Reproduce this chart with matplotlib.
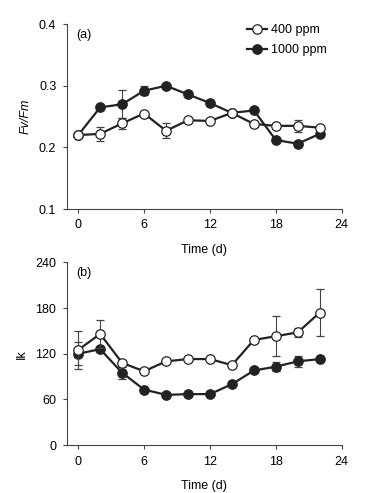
import numpy as np
import matplotlib.pyplot as plt

plt.rcParams["font.family"] = ["Liberation Sans", "DejaVu Sans"]

days = [0, 2, 4, 6, 8, 10, 12, 14, 16, 18, 20, 22]

fvfm_400 = [0.220, 0.222, 0.239, 0.255, 0.227, 0.244, 0.243, 0.256, 0.238, 0.235, 0.235, 0.232]
fvfm_400_err = [0.0, 0.011, 0.009, 0.0, 0.012, 0.0, 0.0, 0.0, 0.005, 0.0, 0.010, 0.003]
fvfm_1000 = [0.220, 0.265, 0.270, 0.292, 0.300, 0.286, 0.272, 0.256, 0.260, 0.212, 0.206, 0.222]
fvfm_1000_err = [0.0, 0.0, 0.023, 0.007, 0.0, 0.0, 0.0, 0.0, 0.0, 0.0, 0.0, 0.0]

ik_400 = [125, 146, 108, 97, 110, 113, 113, 105, 138, 143, 148, 174]
ik_400_err = [25, 18, 0, 0, 0, 0, 0, 0, 0, 26, 6, 31]
ik_1000 = [120, 126, 95, 73, 66, 67, 67, 80, 98, 103, 110, 113]
ik_1000_err = [15, 0, 8, 0, 0, 0, 0, 0, 0, 6, 7, 0]

INK = "#222222"
FS = 9


def draw(ax, y4, e4, y10, e10, label):
    kw = dict(color=INK, lw=1.6, ms=6.8, capsize=3, elinewidth=0.8,
              capthick=0.8, markeredgewidth=0.9, ecolor="#444444")
    ax.errorbar(days, y4, yerr=e4, fmt="-o", mfc="white", mec=INK,
                label="400 ppm", zorder=3, **kw)
    ax.errorbar(days, y10, yerr=e10, fmt="-o", mfc=INK, mec=INK,
                label="1000 ppm", zorder=2, **kw)
    ax.spines["top"].set_visible(False)
    ax.spines["right"].set_visible(False)
    for s in ("left", "bottom"):
        ax.spines[s].set_color("#444444")
        ax.spines[s].set_linewidth(0.8)
    ax.set_xlim(-1.05, 24)
    ax.set_xticks([0, 6, 12, 18, 24])
    ax.set_xlabel("Time (d)", fontsize=FS, labelpad=9)
    ax.tick_params(labelsize=FS, direction="out", length=3, width=0.8,
                   color="#444444", pad=4.5)
    ax.text(0.035, 0.975, label, transform=ax.transAxes, fontsize=FS, va="top")


fig = plt.figure(figsize=(3.87, 4.93), dpi=100)
ax1 = fig.add_axes([0.1723, 0.576, 0.7106, 0.375])
ax2 = fig.add_axes([0.1723, 0.097, 0.7106, 0.371])

draw(ax1, fvfm_400, fvfm_400_err, fvfm_1000, fvfm_1000_err, "(a)")
ax1.set_ylim(0.1, 0.4)
ax1.set_yticks([0.1, 0.2, 0.3, 0.4])
ax1.set_ylabel("Fv/Fm", fontsize=FS, fontstyle="italic", labelpad=5)
handles, labels = ax1.get_legend_handles_labels()
handles = [h[0] for h in handles]
ax1.legend(handles, labels, loc="upper left", frameon=False, fontsize=FS,
           handlelength=1.6, handletextpad=0.35, borderaxespad=0.0,
           borderpad=0.0, labelspacing=0.65, bbox_to_anchor=(0.655, 1.0))

draw(ax2, ik_400, ik_400_err, ik_1000, ik_1000_err, "(b)")
ax2.set_ylim(0, 240)
ax2.set_yticks([0, 60, 120, 180, 240])
ax2.set_ylabel("Ik", fontsize=FS, labelpad=5)

fig.savefig("out.png", dpi=100)
